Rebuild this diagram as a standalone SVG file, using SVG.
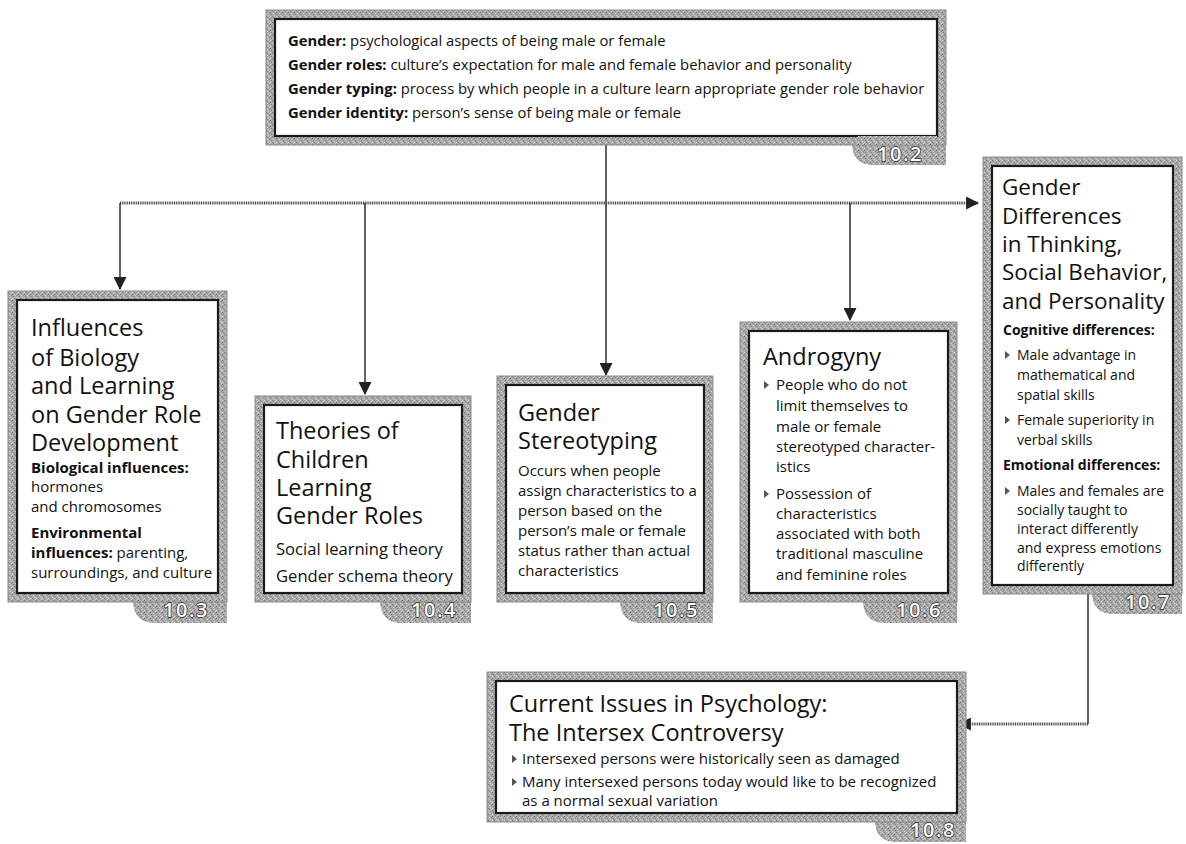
<svg xmlns="http://www.w3.org/2000/svg" width="1186" height="844" viewBox="0 0 1186 844">
  <defs>
    <!-- speckled grey texture used for the frames and number tabs -->
    <pattern id="grain" width="6" height="6" patternUnits="userSpaceOnUse">
      <rect width="6" height="6" fill="#ababab"/>
      <rect x="0" y="0" width="1" height="1" fill="#6e6e6e"/>
      <rect x="3" y="1" width="1" height="1" fill="#d4d4d4"/>
      <rect x="1" y="2" width="1" height="1" fill="#7d7d7d"/>
      <rect x="4" y="3" width="1" height="1" fill="#cfcfcf"/>
      <rect x="2" y="4" width="1" height="1" fill="#777"/>
      <rect x="5" y="5" width="1" height="1" fill="#c8c8c8"/>
      <rect x="5" y="1" width="1" height="1" fill="#888"/>
      <rect x="0" y="4" width="1" height="1" fill="#dadada"/>
      <rect x="3" y="5" width="1" height="1" fill="#8a8a8a"/>
    </pattern>
    <marker id="tri" viewBox="0 0 12 12" refX="11" refY="6" markerWidth="13" markerHeight="13" markerUnits="userSpaceOnUse" orient="auto">
      <path d="M0,0 L12,6 L0,12 Z" fill="#222"/>
    </marker>
    <path id="bullet" d="M0,-4 L5,0 L0,4 Z" fill="#555"/>
  </defs>
  <style>
    .frame { fill: url(#grain); stroke: #8a8a8a; stroke-width: 1; }
    .inner { fill: #fff; stroke: #1a1a1a; stroke-width: 2.2; }
    .tab { fill: url(#grain); }
    .num { font-family: "Open Sans", "Liberation Sans", sans-serif; font-size: 20px; font-weight: 600; fill: #fff; stroke: #2a2a2a; stroke-width: 1.5px; paint-order: stroke; letter-spacing: 1.5px; }
    .t { font-family: "Open Sans", "Noto Sans", "Liberation Sans", sans-serif; fill: #111; }
    .title { font-size: 23.5px; }
    .title-s { font-size: 22.5px; }
    .body { font-size: 15px; }
    .def { font-size: 14.8px; }
    .small { font-size: 14px; }
    .large { font-size: 16.6px; }
    .b { font-weight: 700; }
    .solid { fill: none; stroke: #222; stroke-width: 1.4; }
    .dot { fill: none; stroke: #444; stroke-width: 3; stroke-dasharray: 1 0.8; }
  </style>

  <rect width="1186" height="844" fill="#fff"/>

  <g id="connectors">
    <line class="solid" x1="606" y1="145" x2="606" y2="375" marker-end="url(#tri)"/>
    <line class="dot" x1="120" y1="203" x2="978" y2="203" marker-end="url(#tri)"/>
    <line class="solid" x1="120" y1="203" x2="120" y2="289" marker-end="url(#tri)"/>
    <line class="solid" x1="365" y1="203" x2="365" y2="394" marker-end="url(#tri)"/>
    <line class="solid" x1="850" y1="203" x2="850" y2="320" marker-end="url(#tri)"/>
    <line class="solid" x1="1088" y1="594" x2="1088" y2="724"/>
    <line class="dot" x1="1088" y1="724" x2="959" y2="724" marker-end="url(#tri)"/>
  </g>

  <!-- 10.2 definitions -->
  <g id="node-definitions">
    <path class="tab" d="M852,143 Q852,165 874,165 L946,165 L946,143 Z"/>
    <rect class="frame" x="266" y="10" width="680" height="135"/>
    <rect class="inner" x="275" y="19" width="662" height="117"/>
    <path class="tab" d="M858,136 L937,136 L937,145 L858,145 Z"/>
    <text class="num" x="900" y="161" text-anchor="middle">10.2</text>
    <text class="t def" x="288" y="46"><tspan class="b">Gender:</tspan> psychological aspects of being male or female</text>
    <text class="t def" x="288" y="70"><tspan class="b">Gender roles:</tspan> culture’s expectation for male and female behavior and personality</text>
    <text class="t def" x="288" y="94"><tspan class="b">Gender typing:</tspan> process by which people in a culture learn appropriate gender role behavior</text>
    <text class="t def" x="288" y="118"><tspan class="b">Gender identity:</tspan> person’s sense of being male or female</text>
  </g>

  <!-- 10.3 biology and learning -->
  <g id="node-influences">
    <path class="tab" d="M133,600 Q133,623 155,623 L227,623 L227,600 Z"/>
    <rect class="frame" x="8" y="291" width="219" height="311"/>
    <rect class="inner" x="17" y="300" width="201" height="293"/>
    <text class="num" x="186" y="617" text-anchor="middle">10.3</text>
    <text class="t title" x="31" y="336">Influences</text>
    <text class="t title" x="31" y="366">of Biology</text>
    <text class="t title" x="31" y="394">and Learning</text>
    <text class="t title" x="31" y="423">on Gender Role</text>
    <text class="t title" x="31" y="451">Development</text>
    <text class="t body b" x="31" y="473">Biological influences:</text>
    <text class="t body" x="31" y="492">hormones</text>
    <text class="t body" x="31" y="512">and chromosomes</text>
    <text class="t body b" x="31" y="538">Environmental</text>
    <text class="t body" x="31" y="558"><tspan class="b">influences:</tspan> parenting,</text>
    <text class="t body" x="31" y="578">surroundings, and culture</text>
  </g>

  <!-- 10.4 theories -->
  <g id="node-theories">
    <path class="tab" d="M380,600 Q380,623 402,623 L471,623 L471,600 Z"/>
    <rect class="frame" x="255" y="396" width="216" height="206"/>
    <rect class="inner" x="264" y="405" width="198" height="188"/>
    <text class="num" x="434" y="617" text-anchor="middle">10.4</text>
    <text class="t title" x="276" y="439">Theories of</text>
    <text class="t title" x="276" y="468">Children</text>
    <text class="t title" x="276" y="496">Learning</text>
    <text class="t title" x="276" y="524">Gender Roles</text>
    <text class="t large" x="276" y="555">Social learning theory</text>
    <text class="t large" x="276" y="582">Gender schema theory</text>
  </g>

  <!-- 10.5 stereotyping -->
  <g id="node-stereotyping">
    <path class="tab" d="M620,600 Q620,623 642,623 L713,623 L713,600 Z"/>
    <rect class="frame" x="497" y="376" width="216" height="226"/>
    <rect class="inner" x="506" y="385" width="198" height="208"/>
    <text class="num" x="676" y="617" text-anchor="middle">10.5</text>
    <text class="t title" x="518" y="421">Gender</text>
    <text class="t title" x="518" y="449">Stereotyping</text>
    <text class="t body" x="518" y="476">Occurs when people</text>
    <text class="t body" x="518" y="496">assign characteristics to a</text>
    <text class="t body" x="518" y="516">person based on the</text>
    <text class="t body" x="518" y="536">person’s male or female</text>
    <text class="t body" x="518" y="556">status rather than actual</text>
    <text class="t body" x="518" y="576">characteristics</text>
  </g>

  <!-- 10.6 androgyny -->
  <g id="node-androgyny">
    <path class="tab" d="M863,600 Q863,623 885,623 L957,623 L957,600 Z"/>
    <rect class="frame" x="740" y="322" width="217" height="280"/>
    <rect class="inner" x="749" y="331" width="199" height="262"/>
    <text class="num" x="919" y="617" text-anchor="middle">10.6</text>
    <text class="t title" x="763" y="365">Androgyny</text>
    <use href="#bullet" x="764" y="385"/>
    <text class="t body" x="776" y="390">People who do not</text>
    <text class="t body" x="776" y="411">limit themselves to</text>
    <text class="t body" x="776" y="432">male or female</text>
    <text class="t body" x="776" y="452">stereotyped character-</text>
    <text class="t body" x="776" y="472">istics</text>
    <use href="#bullet" x="764" y="494"/>
    <text class="t body" x="776" y="499">Possession of</text>
    <text class="t body" x="776" y="519">characteristics</text>
    <text class="t body" x="776" y="539">associated with both</text>
    <text class="t body" x="776" y="559">traditional masculine</text>
    <text class="t body" x="776" y="580">and feminine roles</text>
  </g>

  <!-- 10.7 gender differences -->
  <g id="node-differences">
    <path class="tab" d="M1092,592 Q1092,614 1114,614 L1182,614 L1182,592 Z"/>
    <rect class="frame" x="983" y="157" width="199" height="437"/>
    <rect class="inner" x="992" y="166" width="181" height="419"/>
    <text class="num" x="1148" y="609" text-anchor="middle">10.7</text>
    <text class="t title-s" x="1002" y="195">Gender</text>
    <text class="t title-s" x="1002" y="224">Differences</text>
    <text class="t title-s" x="1002" y="252">in Thinking,</text>
    <text class="t title-s" x="1002" y="280">Social Behavior,</text>
    <text class="t title-s" x="1002" y="309">and Personality</text>
    <text class="t small b" x="1003" y="335">Cognitive differences:</text>
    <use href="#bullet" x="1005" y="355"/>
    <text class="t small" x="1017" y="360">Male advantage in</text>
    <text class="t small" x="1017" y="380">mathematical and</text>
    <text class="t small" x="1017" y="400">spatial skills</text>
    <use href="#bullet" x="1005" y="420"/>
    <text class="t small" x="1017" y="425">Female superiority in</text>
    <text class="t small" x="1017" y="445">verbal skills</text>
    <text class="t small b" x="1003" y="470">Emotional differences:</text>
    <use href="#bullet" x="1005" y="491"/>
    <text class="t small" x="1017" y="496">Males and females are</text>
    <text class="t small" x="1017" y="515">socially taught to</text>
    <text class="t small" x="1017" y="534">interact differently</text>
    <text class="t small" x="1017" y="553">and express emotions</text>
    <text class="t small" x="1017" y="571">differently</text>
  </g>

  <!-- 10.8 current issues -->
  <g id="node-intersex">
    <path class="tab" d="M875,820 Q875,842 897,842 L966,842 L966,820 Z"/>
    <rect class="frame" x="487" y="672" width="479" height="150"/>
    <rect class="inner" x="496" y="681" width="461" height="132"/>
    <text class="num" x="933" y="837" text-anchor="middle">10.8</text>
    <text class="t title" x="509" y="712">Current Issues in Psychology:</text>
    <text class="t title" x="509" y="741">The Intersex Controversy</text>
    <use href="#bullet" x="512" y="759"/>
    <text class="t body" x="522" y="764">Intersexed persons were historically seen as damaged</text>
    <use href="#bullet" x="512" y="782"/>
    <text class="t body" x="522" y="787">Many intersexed persons today would like to be recognized</text>
    <text class="t body" x="522" y="806">as a normal sexual variation</text>
  </g>
</svg>
